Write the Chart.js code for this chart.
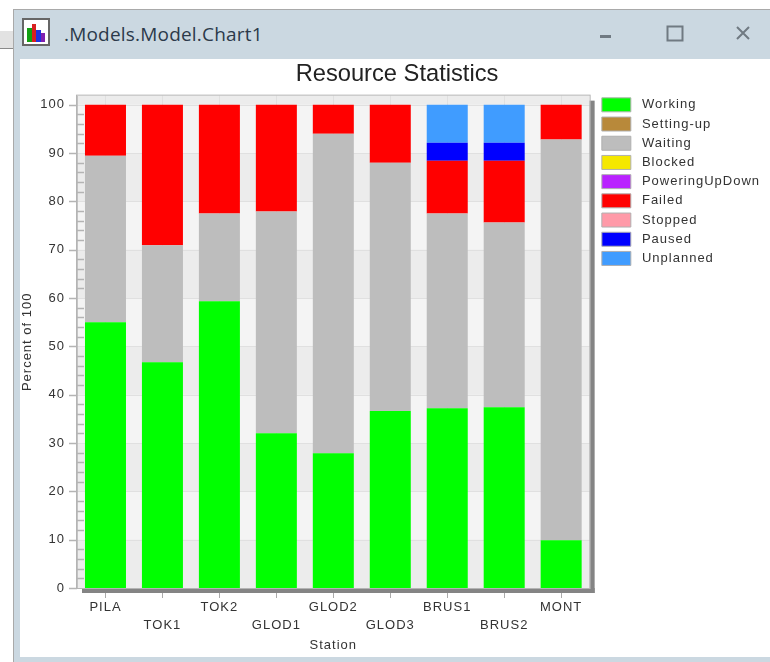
<!DOCTYPE html>
<html>
<head>
<meta charset="utf-8">
<title>Resource Statistics</title>
<script src="https://cdn.jsdelivr.net/npm/chart.js@4"></script>
<style>
    html, body { margin: 0; padding: 0; background: #fff; overflow: hidden; }
    #page { position: relative; width: 770px; height: 662px; overflow: hidden; }
    #behind { position: absolute; left: 0; top: 31px; width: 14px; height: 18px; background: #e2e2e2; border-bottom: 1px solid #8a8a8a; box-sizing: border-box; }
    #win { position: absolute; left: 13px; top: 9px; width: 770px; height: 660px; background: #cbd8e1; border: 1px solid #a9a9a9; box-sizing: border-box; }
    #caption { position: absolute; left: 64px; top: 21px; font: 19px "Open Sans", sans-serif; letter-spacing: 0.2px; color: #2c3a4a; line-height: 26px; }
    #client { position: absolute; left: 20px; top: 59px; width: 750px; height: 598px; background: #fff; }
    #client canvas { display: block; }
    #icon { position: absolute; left: 22px; top: 18px; width: 28px; height: 28px; background: #fff; border: 2px solid #666; box-sizing: border-box; display: flex; align-items: flex-end; padding: 0 3px 2px; }
    #icon i { display: block; width: 5px; }
    #btns svg { position: absolute; left: 0; top: 0; }
</style>
</head>
<body>
<div id="page">
    <div id="behind"></div>
    <div id="win"></div>
    <div id="icon"><i style="height:14px;background:#12a012"></i><i style="height:18px;background:#d82020"></i><i style="height:12px;background:#2030e0"></i><i style="height:9px;background:#8020b0"></i></div>
    <div id="caption">.Models.Model.Chart1</div>
    <div id="btns">
        <svg width="770" height="60">
            <rect x="600" y="35" width="11" height="3" fill="#707a82"/>
            <rect x="667.5" y="26.5" width="15" height="14" fill="none" stroke="#707a82" stroke-width="2"/>
            <path d="M737 27 L749 39 M749 27 L737 39" stroke="#707a82" stroke-width="2" fill="none"/>
        </svg>
    </div>
    <div id="client"><canvas id="chart" width="750" height="598"></canvas></div>
</div>
<script>
    const stations = ['PILA', 'TOK1', 'TOK2', 'GLOD1', 'GLOD2', 'GLOD3', 'BRUS1', 'BRUS2', 'MONT'];
    const yTicks = [0, 10, 20, 30, 40, 50, 60, 70, 80, 90, 100];

    const working = [55, 46.7, 59.3, 32, 27.9, 36.6, 37.2, 37.4, 9.9];
    const settingUp = [0, 0, 0, 0, 0, 0, 0, 0, 0];
    const waiting = [34.4, 24.2, 18.2, 45.9, 66.1, 51.4, 40.3, 38.2, 82.9];
    const blocked = [0, 0, 0, 0, 0, 0, 0, 0, 0];
    const poweringUpDown = [0, 0, 0, 0, 0, 0, 0, 0, 0];
    const failed = [10.6, 29.1, 22.5, 22.1, 6, 12, 10.9, 12.8, 7.2];
    const stopped = [0, 0, 0, 0, 0, 0, 0, 0, 0];
    const paused = [0, 0, 0, 0, 0, 0, 3.7, 3.7, 0];
    const unplanned = [0, 0, 0, 0, 0, 0, 7.9, 7.9, 0];

    const font = '"Liberation Sans", Arial, sans-serif';

    function series(label, data, color) {
        return {
            label: label,
            data: data,
            backgroundColor: color,
            borderWidth: 0,
            barPercentage: 0.72,
            categoryPercentage: 1
        };
    }

    // the small labels in the picture are spaced wider than the font, the title is not
    const textSpacing = {
        id: 'textSpacing',
        beforeLayout(chart) {
            chart.ctx.letterSpacing = '1px';
        },
        afterLayout(chart) {
            // nudge legend and title to where the original has them
            chart.legend.left += 7;
            chart.legend.top -= 3;
            chart.titleBlock.left += 11;
        },
        beforeDraw(chart) {
            const ctx = chart.ctx;
            ctx.letterSpacing = '1px';
            const block = chart.titleBlock;
            if (!block.spacingDone) {
                const draw = block.draw;
                block.draw = function () {
                    ctx.letterSpacing = '0px';
                    draw.call(block);
                    ctx.letterSpacing = '1px';
                };
                block.spacingDone = true;
            }
        }
    };

    // alternating bands behind the bars, minor ticks and the grey drop shadow
    const plotDecor = {
        id: 'plotDecor',
        beforeDatasetsDraw(chart) {
            const { ctx, chartArea: a, scales: { y } } = chart;
            ctx.save();
            ctx.fillStyle = '#ececec';
            ctx.fillRect(a.left, a.top, a.width, a.height);
            ctx.fillStyle = '#f4f4f4';
            for (let v = 10; v < 100; v += 20) {
                ctx.fillRect(a.left, y.getPixelForValue(v + 10), a.width, y.getPixelForValue(v) - y.getPixelForValue(v + 10));
            }
            ctx.strokeStyle = '#e0e0e0';
            ctx.lineWidth = 1;
            ctx.beginPath();
            yTicks.slice(1).forEach(v => {
                const py = Math.round(y.getPixelForValue(v)) + 0.5;
                ctx.moveTo(a.left, py);
                ctx.lineTo(a.right, py);
            });
            chart.scales.x.ticks.forEach((t, i) => {
                const px = Math.round(chart.scales.x.getPixelForTick(i)) + 0.5;
                ctx.moveTo(px, a.top);
                ctx.lineTo(px, a.bottom);
            });
            ctx.stroke();
            ctx.fillStyle = '#848484';
            ctx.fillRect(a.right, a.top + 5, 5, a.height);
            ctx.fillRect(a.left + 5, a.bottom, a.width, 5);
            ctx.strokeStyle = '#b4b4b4';
            ctx.lineWidth = 1;
            ctx.strokeRect(a.left - 0.5, a.top - 0.5, a.width + 1, a.height + 1);
            ctx.lineWidth = 1.5;
            ctx.beginPath();
            ctx.moveTo(a.left, a.top);
            ctx.lineTo(a.left, a.bottom);
            for (let v = 0; v <= 100; v += 2) {
                const py = Math.round(y.getPixelForValue(v)) + 0.5;
                ctx.moveTo(a.left - (v % 10 === 0 ? 8 : 0), py);
                ctx.lineTo(a.left + (v % 10 === 0 ? 0 : 7), py);
            }
            ctx.stroke();
            ctx.restore();
        }
    };

    new Chart(document.getElementById('chart'), {
        type: 'bar',
        data: {
            labels: stations,
            datasets: [
                series('Working', working, '#00ff00'),
                series('Setting-up', settingUp, '#b8893a'),
                series('Waiting', waiting, '#bdbdbd'),
                series('Blocked', blocked, '#f5e800'),
                series('PoweringUpDown', poweringUpDown, '#b922ff'),
                series('Failed', failed, '#ff0000'),
                series('Stopped', stopped, '#ff9aa8'),
                series('Paused', paused, '#0000ff'),
                series('Unplanned', unplanned, '#409cff')
            ]
        },
        plugins: [textSpacing, plotDecor],
        options: {
            responsive: false,
            animation: false,
            layout: { padding: { left: 0, right: 7, top: 0, bottom: 0 } },
            plugins: {
                tooltip: { enabled: false },
                title: {
                    display: true,
                    text: 'Resource Statistics',
                    color: '#222',
                    font: { family: font, size: 23.7, weight: 'normal' },
                    padding: { top: 1.2, bottom: 7 }
                },
                legend: {
                    position: 'right',
                    align: 'start',
                    fullSize: false,
                    labels: {
                        boxWidth: 29,
                        boxHeight: 14,
                        color: '#333',
                        padding: 5.2,
                        font: { family: font, size: 13 },
                        generateLabels(chart) {
                            return chart.data.datasets.map((d, i) => ({
                                text: ' ' + d.label,
                                fillStyle: d.backgroundColor,
                                strokeStyle: '#b0b0b0',
                                lineWidth: 1,
                                fontColor: '#333',
                                datasetIndex: i
                            }));
                        }
                    }
                }
            },
            scales: {
                x: {
                    stacked: true,
                    grid: { display: true, offset: false, drawOnChartArea: false, color: '#aaa', tickLength: 10 },
                    border: { display: false },
                    title: { display: true, text: 'Station', color: '#333', font: { family: font, size: 13 }, padding: { top: 3 } },
                    ticks: {
                        color: '#333',
                        autoSkip: false,
                        maxRotation: 0,
                        font: { family: font, size: 13, lineHeight: 1.4 },
                        padding: 0,
                        callback(value, index) {
                            return index % 2 === 0 ? [stations[index], ''] : ['', stations[index]];
                        }
                    }
                },
                y: {
                    stacked: true,
                    min: 0,
                    max: 101.86,
                    grid: { display: false, drawTicks: false },
                    border: { display: false },
                    title: { display: true, text: 'Percent of 100', color: '#333', font: { family: font, size: 13 }, padding: 0 },
                    afterBuildTicks(axis) {
                        axis.ticks = yTicks.map(v => ({ value: v }));
                    },
                    afterFit(axis) {
                        axis.width = 57;
                    },
                    ticks: {
                        color: '#333',
                        padding: 12,
                        font: { family: font, size: 13 }
                    }
                }
            }
        }
    });
</script>
</body>
</html>
